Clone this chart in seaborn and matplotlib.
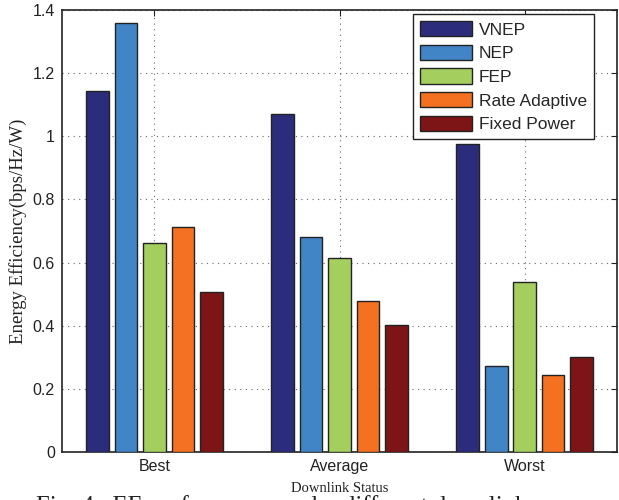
import pandas as pd
import matplotlib
matplotlib.use('Agg')
import matplotlib.pyplot as plt
import seaborn as sns

# Data
statuses = ['Best', 'Average', 'Worst']
schemes = ['VNEP', 'NEP', 'FEP', 'Rate Adaptive', 'Fixed Power']
vnep = [1.142, 1.072, 0.974]
nep = [1.359, 0.681, 0.273]
fep = [0.661, 0.616, 0.537]
rate_adaptive = [0.714, 0.477, 0.244]
fixed_power = [0.506, 0.402, 0.301]

colors = ['#2B2C7C', '#4285C6', '#A4CF5F', '#F37121', '#7D1416']

rows = []
for scheme, vals in zip(schemes, [vnep, nep, fep, rate_adaptive, fixed_power]):
    for status, v in zip(statuses, vals):
        rows.append({'Downlink Status': status, 'Scheme': scheme, 'EE': v})
df = pd.DataFrame(rows)

sns.set_style('white')
plt.rcParams['font.family'] = ['Liberation Sans', 'DejaVu Sans']

fig = plt.figure(figsize=(6.19, 5), dpi=100)
ax = fig.add_axes([0.1, 0.096, 0.897, 0.884])

sns.barplot(data=df, x='Downlink Status', y='EE', hue='Scheme',
            order=statuses, hue_order=schemes, palette=colors,
            width=0.769, gap=0.2, edgecolor='#222222', linewidth=1.0,
            saturation=1, ax=ax, zorder=3)

ax.set_xlim(-0.5, 2.5)
ax.set_ylim(0, 1.4)
ax.set_yticks([0, 0.2, 0.4, 0.6, 0.8, 1.0, 1.2, 1.4])
ax.set_yticklabels(['0', '0.2', '0.4', '0.6', '0.8', '1', '1.2', '1.4'])
ax.grid(True, linestyle=(0, (1, 4)), color='#666666', linewidth=0.8, zorder=0)
ax.set_axisbelow(True)
ax.tick_params(direction='in', top=True, right=True, length=4,
               labelsize=11.5, colors='#222222', pad=5)
for s in ax.spines.values():
    s.set_color('#222222')
    s.set_linewidth(1.2)

ax.set_xlabel('Downlink Status', family='Liberation Serif', fontsize=10.5,
              color='#222222', labelpad=6)
ax.set_ylabel('Energy Efficiency(bps/Hz/W)', family='Liberation Serif',
              fontsize=13.5, color='#222222', labelpad=4)

leg = ax.legend(loc='upper right', bbox_to_anchor=(0.9586, 0.991),
                borderaxespad=0, fontsize=12.5, handlelength=3.0,
                handleheight=1.0, labelspacing=0.4, handletextpad=0.4,
                fancybox=False, framealpha=1, edgecolor='#222222',
                borderpad=0.4)
leg.get_frame().set_linewidth(1.0)

# caption of the source figure, only its top edge shows at the bottom
fig.text(0.058, -0.026, 'Fig. 4.  EE performance under different downlink',
         family='Liberation Serif', fontsize=17.8, color='#222222',
         ha='left', va='baseline')

fig.savefig('out.png', dpi=100)
